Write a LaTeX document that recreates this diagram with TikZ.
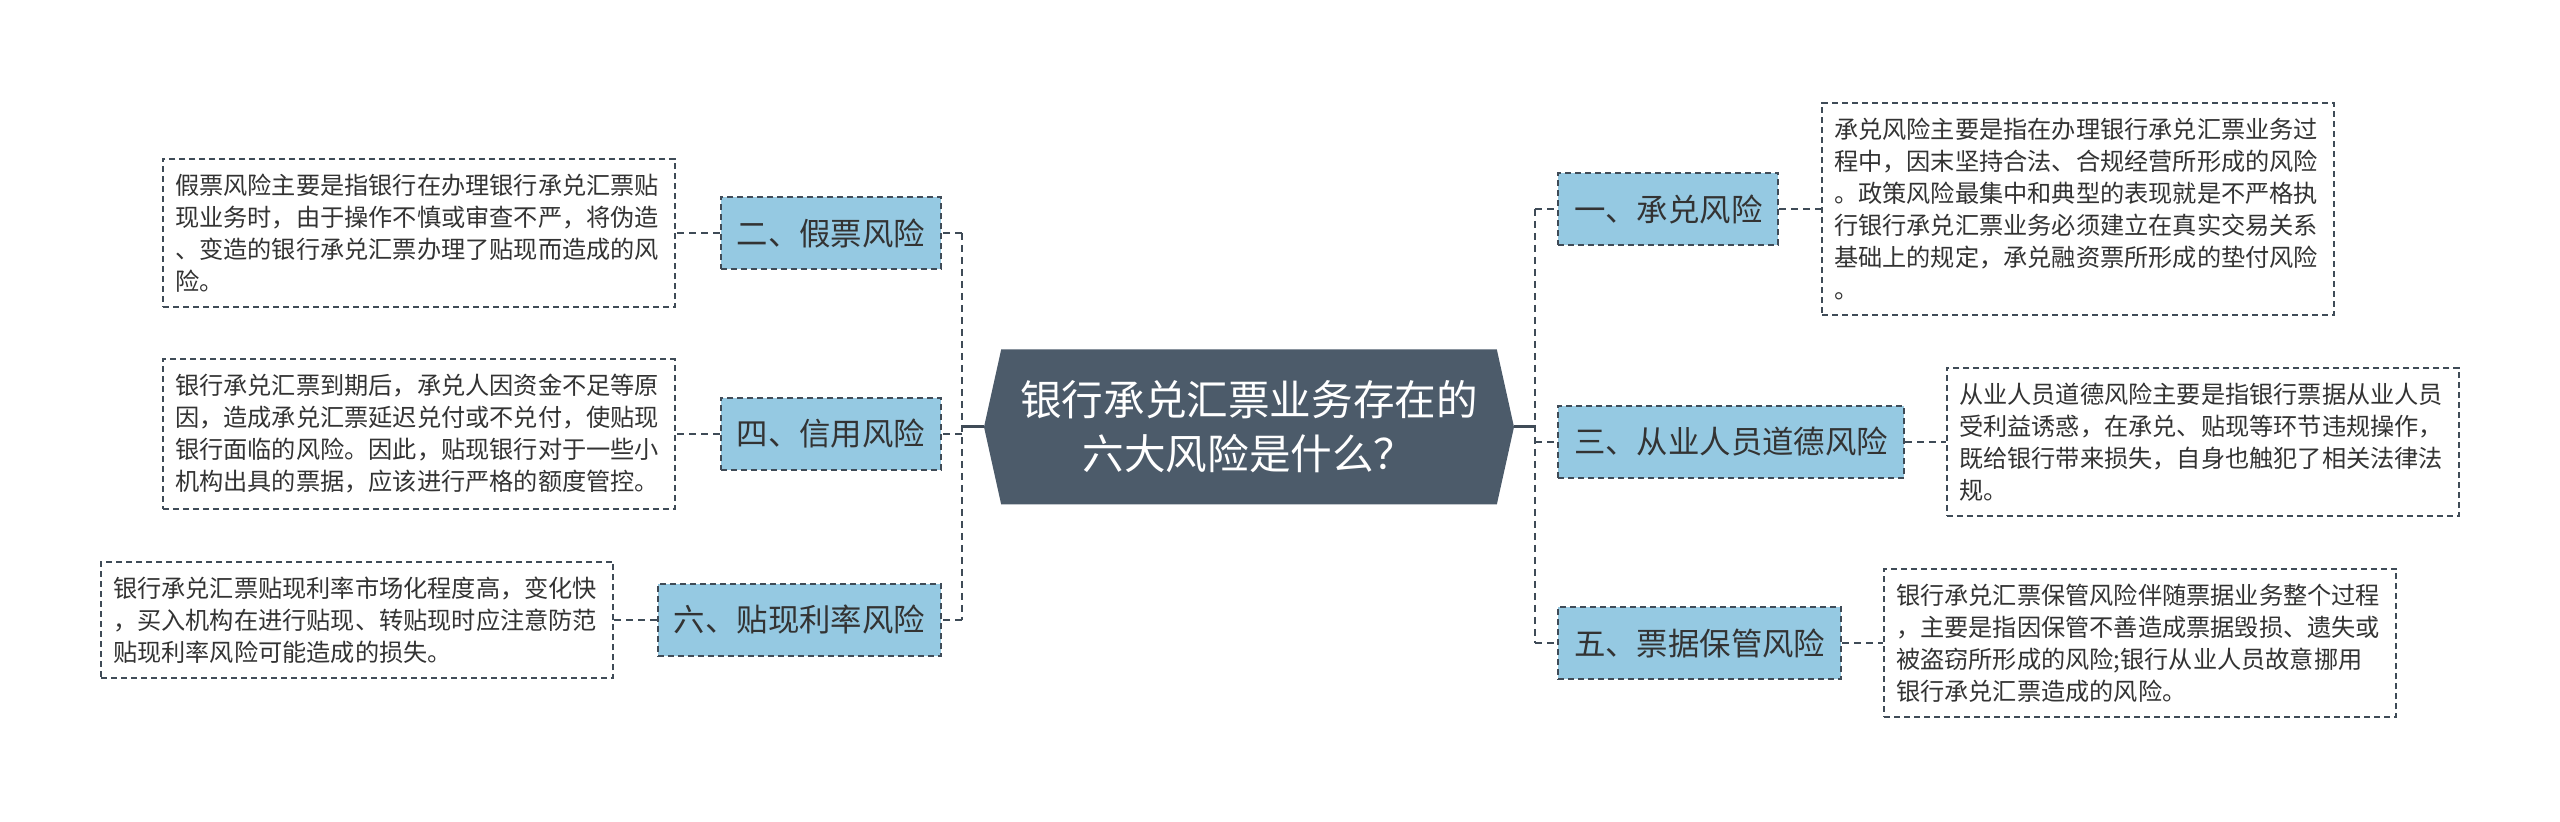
\documentclass[tikz,border=0pt]{standalone}
\usepackage{fontspec}
\usepackage{xcolor}
\usepackage{tikz}
\usetikzlibrary{shapes.symbols,calc}
\newfontfamily\cjk{Noto Sans CJK SC}

\definecolor{rootfill}{HTML}{4C5B6A}
\definecolor{branchfill}{HTML}{95C9E2}
\definecolor{edgegray}{HTML}{3F4B57}
\definecolor{inkgray}{HTML}{333333}

\begin{document}
\begin{tikzpicture}[
  x=0.5pt, y=-0.5pt,
  root/.style={shape=signal, signal to=east and west, signal pointer angle=155,
    fill=rootfill, text=white, align=center, minimum width=265pt, minimum height=77.5pt,
    inner sep=0pt, font=\cjk\fontsize{20.8}{27}\selectfont},
  branch/.style={rectangle, draw=edgegray, line width=1pt, dash pattern=on 3pt off 2pt,
    fill=branchfill, text=inkgray, minimum height=36pt, inner xsep=8pt, inner ysep=0pt,
    font=\cjk\fontsize{15.7}{18}\selectfont},
  leaf/.style={rectangle, draw=edgegray, line width=1pt, dash pattern=on 3pt off 2pt,
    fill=white, text=inkgray, text width=244pt, align=left, inner xsep=6pt, inner ysep=7.5pt,
    font=\cjk\fontsize{12.1}{16}\selectfont},
  link/.style={draw=edgegray, line width=1.3pt, dash pattern=on 3.5pt off 2.5pt},
  trunk/.style={draw=edgegray, line width=1.5pt},
]
\useasboundingbox (0,0) rectangle (2560,822);

% Root
\node[root] (root) at (1249,427) {银行承兑汇票业务存在的\\六大风险是什么？};
\coordinate (lspine) at (962,427);
\coordinate (rspine) at (1535,427);

% Left branches
\node[branch, anchor=east] (b2) at (942,233) {二、假票风险};
\node[branch, anchor=east] (b4) at (942,434) {四、信用风险};
\node[branch, anchor=east] (b6) at (942,620) {六、贴现利率风险};

\node[leaf, anchor=east] (t2) at (676,233) {假票风险主要是指银行在办理银行承兑汇票贴\\现业务时，由于操作不慎或审查不严，将伪造\\、变造的银行承兑汇票办理了贴现而造成的风\\险。};
\node[leaf, anchor=east] (t4) at (676,434) {银行承兑汇票到期后，承兑人因资金不足等原\\因，造成承兑汇票延迟兑付或不兑付，使贴现\\银行面临的风险。因此，贴现银行对于一些小\\机构出具的票据，应该进行严格的额度管控。};
\node[leaf, anchor=east] (t6) at (614,620) {银行承兑汇票贴现利率市场化程度高，变化快\\，买入机构在进行贴现、转贴现时应注意防范\\贴现利率风险可能造成的损失。};

% Right branches
\node[branch, anchor=west] (b1) at (1557,209) {一、承兑风险};
\node[branch, anchor=west] (b3) at (1557,442) {三、从业人员道德风险};
\node[branch, anchor=west] (b5) at (1557,643) {五、票据保管风险};

\node[leaf, anchor=west] (t1) at (1821,209) {承兑风险主要是指在办理银行承兑汇票业务过\\程中，因末坚持合法、合规经营所形成的风险\\。政策风险最集中和典型的表现就是不严格执\\行银行承兑汇票业务必须建立在真实交易关系\\基础上的规定，承兑融资票所形成的垫付风险\\。};
\node[leaf, anchor=west] (t3) at (1946,442) {从业人员道德风险主要是指银行票据从业人员\\受利益诱惑，在承兑、贴现等环节违规操作，\\既给银行带来损失，自身也触犯了相关法律法\\规。};
\node[leaf, anchor=west] (t5) at (1883,643) {银行承兑汇票保管风险伴随票据业务整个过程\\，主要是指因保管不善造成票据毁损、遗失或\\被盗窃所形成的风险;银行从业人员故意挪用\\银行承兑汇票造成的风险。};

% Root to spines
\draw[trunk] (root.west) -- (lspine);
\draw[trunk] (root.east) -- (rspine);

% Spines
\draw[link] (b2.east -| lspine) -- (b6.east -| lspine);
\draw[link] (b1.west -| rspine) -- (b5.west -| rspine);

% Spine to branches
\draw[link] (b2.east -| lspine) -- (b2.east);
\draw[link] (b4.east -| lspine) -- (b4.east);
\draw[link] (b6.east -| lspine) -- (b6.east);
\draw[link] (b1.west -| rspine) -- (b1.west);
\draw[link] (b3.west -| rspine) -- (b3.west);
\draw[link] (b5.west -| rspine) -- (b5.west);

% Branches to notes
\draw[link] (b2.west) -- (t2.east);
\draw[link] (b4.west) -- (t4.east);
\draw[link] (b6.west) -- (t6.east);
\draw[link] (b1.east) -- (t1.west);
\draw[link] (b3.east) -- (t3.west);
\draw[link] (b5.east) -- (t5.west);

\end{tikzpicture}
\end{document}
